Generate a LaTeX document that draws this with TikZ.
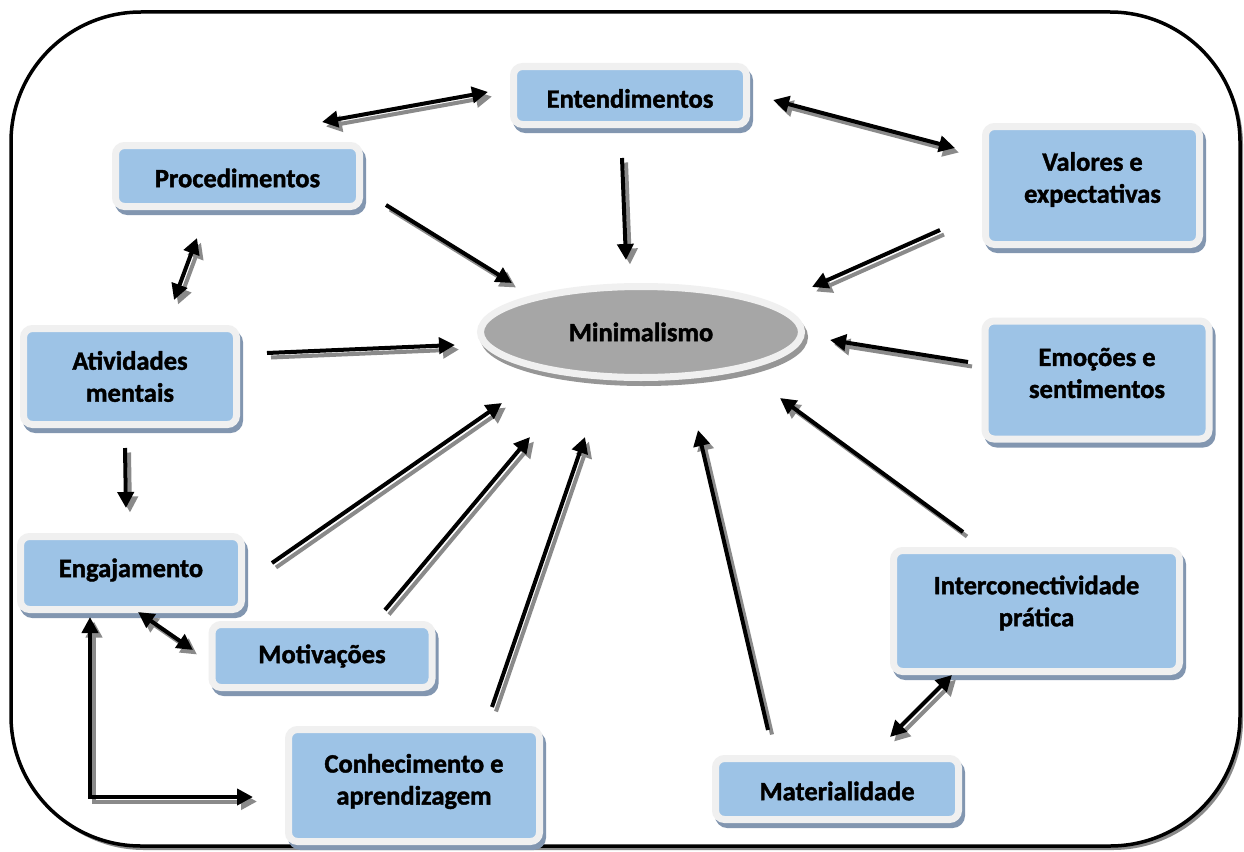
\documentclass[tikz,border=0pt]{standalone}
\usepackage{fontspec}
\setmainfont{Carlito}[BoldFeatures={FakeBold=1.5}]
\usetikzlibrary{arrows.meta,shapes.geometric}
\definecolor{boxblue}{RGB}{157,195,230}
\definecolor{boxrim}{RGB}{240,240,240}
\definecolor{boxshadow}{RGB}{130,150,176}
\definecolor{ellgray}{RGB}{166,166,166}
\definecolor{ellshadow}{RGB}{150,150,150}
\definecolor{arrshadow}{RGB}{138,138,138}
\begin{document}
\begin{tikzpicture}[x=1pt,y=-1pt,
  txt/.style={font=\bfseries\fontsize{26.5}{32}\selectfont, align=center, text=black},
  box/.style={rectangle, rounded corners=9pt, fill=boxblue, draw=boxrim, line width=7pt,
    inner sep=0pt, txt,
    preaction={draw=boxshadow, fill=boxshadow, line width=7pt,
      transform canvas={xshift=3pt,yshift=-5pt}}},
  ell/.style={ellipse, fill=ellgray, draw=boxrim, line width=7pt, inner sep=0pt, txt,
    preaction={draw=ellshadow, fill=ellshadow, line width=7pt,
      transform canvas={xshift=3pt,yshift=-5pt}}},
  tip/.style={-{Triangle[length=16pt,width=16pt]}},
  dtip/.style={{Triangle[length=16pt,width=16pt]}-{Triangle[length=16pt,width=16pt]}},
  arr/.style={line width=4pt, tip},
  darr/.style={line width=4pt, dtip},
]
\useasboundingbox (0,0) rectangle (1244,851);
% frame
\fill[arrshadow] (14,15) [rounded corners=130pt] rectangle (1243,850);
\fill[white] (11,12) [rounded corners=130pt] rectangle (1240,846);
\draw[line width=3.5pt, rounded corners=130pt] (11,12) rectangle (1240,846);

% nodes
\node[box, minimum width=233pt, minimum height=58pt,
  label={[txt, yshift=-3pt]center:Entendimentos}] (ent) at (630,95.5) {};
\node[box, minimum width=244pt, minimum height=61pt,
  label={[txt, yshift=-2pt]center:Procedimentos}] (proc) at (237.5,176) {};
\node[box, minimum width=214pt, minimum height=118pt,
  label={[txt, yshift=6pt]center:Valores e\\expectativas}] (val) at (1092.5,185.5) {};
\node[box, minimum width=224pt, minimum height=118pt,
  label={[txt, yshift=7pt]center:Emoções e\\sentimentos}] (emo) at (1097,380) {};
\node[box, minimum width=213pt, minimum height=96pt] (ativ) at (130,376.5) {Atividades\\mentais};
\node[box, minimum width=221pt, minimum height=73pt,
  label={[txt, yshift=3pt]center:Engajamento}] (eng) at (131,573) {};
\node[box, minimum width=220pt, minimum height=63pt] (mot) at (322,656) {Motivações};
\node[box, minimum width=251pt, minimum height=112pt,
  label={[txt, yshift=4pt]center:Conhecimento e\\aprendizagem}] (con) at (414,785.5) {};
\node[box, minimum width=243pt, minimum height=61pt,
  label={[txt, yshift=-2pt]center:Materialidade}] (mat) at (837,789) {};
\node[box, minimum width=286pt, minimum height=121pt,
  label={[txt, yshift=8pt]center:Interconectividade\\prática}] (inter) at (1036.5,611) {};
\node[ell, minimum width=321pt, minimum height=91pt] (min) at (641,332) {Minimalismo};

% connector end points
\coordinate (a1s) at (322,122); \coordinate (a1e) at (488,92);
\coordinate (a2s) at (773,100); \coordinate (a2e) at (955,148);
\coordinate (a3s) at (622,158); \coordinate (a3e) at (626,260);
\coordinate (a4s) at (386,205); \coordinate (a4e) at (512,283);
\coordinate (a5s) at (940,230); \coordinate (a5e) at (812,287);
\coordinate (a6s) at (968,362); \coordinate (a6e) at (830,340);
\coordinate (a7s) at (267,353); \coordinate (a7e) at (455,345);
\coordinate (a8s) at (197,238); \coordinate (a8e) at (174,300);
\coordinate (a9s) at (125,448); \coordinate (a9e) at (126,508);
\coordinate (a10s) at (272,563); \coordinate (a10e) at (502,403);
\coordinate (a11s) at (385,610); \coordinate (a11e) at (530,437);
\coordinate (a12s) at (492,707); \coordinate (a12e) at (585,437);
\coordinate (a13s) at (768,730); \coordinate (a13e) at (698,430);
\coordinate (a14s) at (963,532); \coordinate (a14e) at (780,398);
\coordinate (a15s) at (952,675); \coordinate (a15e) at (890,737);
\coordinate (a16s) at (138,612); \coordinate (a16e) at (193,650);
\coordinate (a17s) at (90,617); \coordinate (a17m) at (90,797); \coordinate (a17e) at (253,797);

\foreach \col/\dx/\dy in {arrshadow/4pt/-4.5pt, black/0pt/0pt}{
  \begin{scope}[draw=\col, fill=\col, transform canvas={xshift=\dx, yshift=\dy}]
    \draw[darr] (a1s) -- (a1e);
    \draw[darr] (a2s) -- (a2e);
    \draw[arr] (a3s) -- (a3e);
    \draw[arr] (a4s) -- (a4e);
    \draw[arr] (a5s) -- (a5e);
    \draw[arr] (a6s) -- (a6e);
    \draw[arr] (a7s) -- (a7e);
    \draw[darr] (a8s) -- (a8e);
    \draw[arr] (a9s) -- (a9e);
    \draw[arr] (a10s) -- (a10e);
    \draw[arr] (a11s) -- (a11e);
    \draw[arr] (a12s) -- (a12e);
    \draw[arr] (a13s) -- (a13e);
    \draw[arr] (a14s) -- (a14e);
    \draw[darr] (a15s) -- (a15e);
    \draw[darr] (a16s) -- (a16e);
    \draw[darr] (a17s) -- (a17m) -- (a17e);
  \end{scope}
}
\end{tikzpicture}
\end{document}
